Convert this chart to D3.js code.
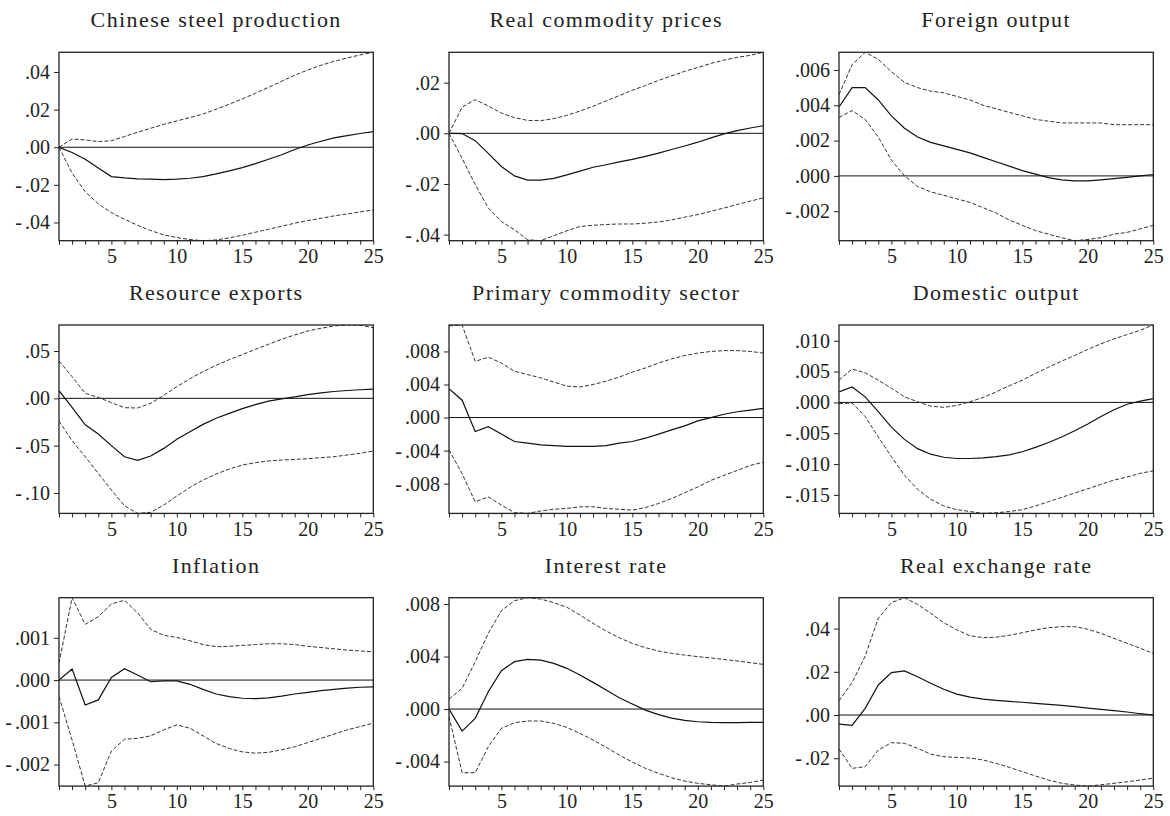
<!DOCTYPE html>
<html>
<head>
<meta charset="utf-8">
<script src="https://cdn.jsdelivr.net/npm/d3@7"></script>
<style>
  body { margin: 0; background: #fff; }
  text { font-family: 'Liberation Serif', 'Times New Roman', serif; fill: #222; }
</style>
</head>
<body>
<div id="chart"></div>
<script>
// horizon 1..25
var periods = d3.range(1, 26);

var titles = ['Chinese steel production', 'Real commodity prices', 'Foreign output',
   'Resource exports', 'Primary commodity sector', 'Domestic output',
   'Inflation', 'Interest rate', 'Real exchange rate'];

// Chinese steel production
var steelMid = [0, -0.0028, -0.0064, -0.011, -0.0156, -0.0163, -0.0168, -0.017, -0.0172, -0.017, -0.0165, -0.0156, -0.0142, -0.0126, -0.0108, -0.0087, -0.0064, -0.004, -0.0012, 0.0012, 0.0032, 0.005, 0.0062, 0.0073, 0.0083];
var steelHi = [0, 0.0044, 0.0039, 0.003, 0.0035, 0.0057, 0.008, 0.0101, 0.0122, 0.014, 0.0158, 0.0177, 0.0202, 0.0229, 0.0257, 0.0287, 0.0319, 0.0351, 0.0383, 0.0411, 0.0436, 0.0457, 0.0475, 0.0491, 0.0505];
var steelLo = [0, -0.0138, -0.0236, -0.0301, -0.0348, -0.0383, -0.0415, -0.0443, -0.0466, -0.048, -0.0491, -0.0497, -0.0493, -0.0482, -0.0468, -0.0452, -0.0436, -0.042, -0.0404, -0.039, -0.0378, -0.0365, -0.0355, -0.0344, -0.0333];

// Real commodity prices
var priceMid = [0, -0.0001, -0.0029, -0.0079, -0.0131, -0.0168, -0.0185, -0.0185, -0.0178, -0.0164, -0.0149, -0.0134, -0.0124, -0.0113, -0.0103, -0.0091, -0.0078, -0.0064, -0.005, -0.0035, -0.0018, -0.0002, 0.0011, 0.0021, 0.003];
var priceHi = [0, 0.0103, 0.0133, 0.0108, 0.008, 0.0062, 0.0051, 0.005, 0.0058, 0.0071, 0.0088, 0.0107, 0.0128, 0.0149, 0.017, 0.0189, 0.0209, 0.0227, 0.0245, 0.026, 0.0276, 0.0289, 0.03, 0.0308, 0.032];
var priceLo = [0, -0.0099, -0.0202, -0.0295, -0.0348, -0.0381, -0.042, -0.0424, -0.0404, -0.0385, -0.0368, -0.0363, -0.036, -0.0358, -0.0358, -0.0355, -0.035, -0.0342, -0.0331, -0.0321, -0.0308, -0.0295, -0.0281, -0.0268, -0.0255];

// Foreign output
var foreignMid = [0.0039, 0.005, 0.005, 0.0043, 0.0034, 0.0027, 0.0022, 0.0019, 0.0017, 0.0015, 0.0013, 0.00105, 0.0008, 0.00055, 0.0003, 0.0001, -0.0001, -0.00022, -0.00028, -0.00028, -0.00022, -0.00015, -0.00008, 0, 0.00008];
var foreignHi = [0.0046, 0.0063, 0.007, 0.0066, 0.0059, 0.0053, 0.005, 0.0048, 0.0047, 0.0045, 0.0043, 0.004, 0.0038, 0.0036, 0.0034, 0.0032, 0.0031, 0.003, 0.003, 0.003, 0.003, 0.0029, 0.0029, 0.0029, 0.0029];
var foreignLo = [0.0033, 0.0037, 0.0032, 0.0022, 0.0009, 0, -0.0006, -0.0009, -0.0011, -0.0013, -0.0015, -0.0018, -0.0021, -0.0025, -0.0028, -0.0031, -0.0033, -0.0035, -0.00367, -0.0036, -0.0035, -0.0033, -0.0032, -0.003, -0.0028];

// Resource exports
var exportMid = [0.0081, -0.0095, -0.028, -0.0377, -0.05, -0.0617, -0.0655, -0.061, -0.0529, -0.0433, -0.0352, -0.0275, -0.0211, -0.0159, -0.0109, -0.0066, -0.003, -0.0005, 0.0015, 0.004, 0.0058, 0.0072, 0.0083, 0.0091, 0.0097];
var exportHi = [0.0395, 0.0229, 0.0053, 0.001, -0.0046, -0.0099, -0.0102, -0.0053, 0.0032, 0.0123, 0.0208, 0.0282, 0.0349, 0.0409, 0.0462, 0.0518, 0.0571, 0.0624, 0.067, 0.0712, 0.074, 0.0765, 0.0775, 0.0772, 0.0747];
var exportLo = [-0.024, -0.0447, -0.0617, -0.0793, -0.0969, -0.1135, -0.1216, -0.1205, -0.1128, -0.1032, -0.0941, -0.0863, -0.08, -0.0747, -0.0705, -0.068, -0.0662, -0.0652, -0.0645, -0.0638, -0.0627, -0.0617, -0.0599, -0.0581, -0.0557];

// Primary commodity sector
var primaryMid = [0.0035, 0.0021, -0.0017, -0.0011, -0.002, -0.0029, -0.0031, -0.0033, -0.0034, -0.0035, -0.0035, -0.0035, -0.0034, -0.0031, -0.0029, -0.0025, -0.002, -0.0015, -0.001, -0.0004, 0, 0.0004, 0.0007, 0.0009, 0.0011];
var primaryHi = [0.0111, 0.0112, 0.0068, 0.0073, 0.0066, 0.0056, 0.0052, 0.0048, 0.0043, 0.0038, 0.0037, 0.004, 0.0044, 0.0049, 0.0055, 0.006, 0.0066, 0.0071, 0.0075, 0.0078, 0.008, 0.0081, 0.0081, 0.008, 0.0078];
var primaryLo = [-0.0039, -0.0068, -0.0102, -0.0096, -0.0106, -0.0115, -0.0116, -0.0113, -0.0111, -0.011, -0.0108, -0.0108, -0.011, -0.0111, -0.0112, -0.0109, -0.0104, -0.0098, -0.0091, -0.0084, -0.0076, -0.007, -0.0064, -0.0058, -0.0054];

// Domestic output
var domesticMid = [0.0017, 0.0025, 0.0009, -0.0015, -0.004, -0.006, -0.0075, -0.0084, -0.0089, -0.0091, -0.0091, -0.009, -0.0088, -0.0085, -0.008, -0.0073, -0.0065, -0.0056, -0.0046, -0.0035, -0.0023, -0.0012, -0.0003, 0.0002, 0.0006];
var domesticHi = [0.0036, 0.0054, 0.0048, 0.0036, 0.0023, 0.0009, 0.0001, -0.0006, -0.0008, -0.0005, 0.0001, 0.0008, 0.0017, 0.0027, 0.0036, 0.0047, 0.0057, 0.0067, 0.0076, 0.0086, 0.0095, 0.0103, 0.011, 0.0117, 0.01255];
var domesticLo = [-0.0002, -0.0001, -0.0023, -0.0056, -0.0088, -0.0118, -0.0141, -0.0157, -0.0168, -0.0174, -0.0177, -0.018, -0.0179, -0.0177, -0.0174, -0.0168, -0.0161, -0.0154, -0.0147, -0.014, -0.0133, -0.0126, -0.0121, -0.0115, -0.0111];

// Inflation
var inflMid = [0, 0.00026, -0.00059, -0.00047, 0.00006, 0.00027, 0.00012, -0.00004, -0.00002, -0.00002, -0.0001, -0.00022, -0.00033, -0.00039, -0.00043, -0.00044, -0.00042, -0.00038, -0.00033, -0.00029, -0.00025, -0.00022, -0.00019, -0.00017, -0.00016];
var inflHi = [0.0004, 0.00195, 0.00132, 0.0015, 0.0018, 0.00189, 0.00159, 0.0012, 0.00106, 0.00101, 0.00093, 0.00084, 0.00079, 0.0008, 0.00082, 0.00084, 0.00086, 0.00086, 0.00084, 0.0008, 0.00077, 0.00074, 0.00071, 0.00069, 0.00067];
var inflLo = [-0.00039, -0.00142, -0.00251, -0.00243, -0.00168, -0.0014, -0.00138, -0.00132, -0.00118, -0.00106, -0.00114, -0.00132, -0.0015, -0.00162, -0.0017, -0.00173, -0.00171, -0.00165, -0.00158, -0.00148, -0.00138, -0.00128, -0.00118, -0.0011, -0.00102];

// Interest rate
var rateMid = [0, -0.00168, -0.00071, 0.00132, 0.00292, 0.00361, 0.00378, 0.00373, 0.00348, 0.0031, 0.00259, 0.00203, 0.00145, 0.00086, 0.00038, -0.00008, -0.00043, -0.00069, -0.00086, -0.00097, -0.00102, -0.00104, -0.00104, -0.00102, -0.00102];
var rateHi = [0.00076, 0.00157, 0.0036, 0.00577, 0.00749, 0.00825, 0.00848, 0.00838, 0.0081, 0.00775, 0.00716, 0.00653, 0.00594, 0.00543, 0.005, 0.00467, 0.00442, 0.00424, 0.00411, 0.00399, 0.00389, 0.00378, 0.00366, 0.00353, 0.0034];
var rateLo = [-0.00058, -0.00485, -0.00485, -0.00287, -0.00147, -0.00104, -0.00091, -0.00091, -0.00109, -0.0014, -0.00185, -0.00236, -0.00292, -0.0035, -0.00404, -0.00452, -0.0049, -0.00523, -0.00549, -0.00566, -0.00577, -0.00587, -0.00571, -0.00559, -0.00541];

// Real exchange rate
var rerMid = [-0.0042, -0.0048, 0.0031, 0.0139, 0.0196, 0.0204, 0.0177, 0.0147, 0.0119, 0.0097, 0.0083, 0.0074, 0.0068, 0.0063, 0.0059, 0.0054, 0.0049, 0.0045, 0.0039, 0.0032, 0.0026, 0.002, 0.0014, 0.0006, 0];
var rerHi = [0.0066, 0.015, 0.0273, 0.0448, 0.052, 0.0543, 0.0512, 0.0471, 0.0427, 0.0394, 0.0367, 0.0358, 0.036, 0.0369, 0.0381, 0.0394, 0.0404, 0.0409, 0.0409, 0.0397, 0.0378, 0.0355, 0.0332, 0.0309, 0.0285];
var rerLo = [-0.0157, -0.0247, -0.0239, -0.0162, -0.0128, -0.0131, -0.0154, -0.0181, -0.0193, -0.0196, -0.0199, -0.0208, -0.0224, -0.0242, -0.0262, -0.0282, -0.0301, -0.0316, -0.0324, -0.0329, -0.0323, -0.0316, -0.0309, -0.0301, -0.0292];

// y tick labels per panel
var yTicks = [
   [-0.04, -0.02, 0, 0.02, 0.04],
   [-0.04, -0.02, 0, 0.02],
   [-0.002, 0, 0.002, 0.004, 0.006],
   [-0.10, -0.05, 0, 0.05],
   [-0.008, -0.004, 0, 0.004, 0.008],
   [-0.015, -0.010, -0.005, 0, 0.005, 0.010],
   [-0.002, -0.001, 0, 0.001],
   [-0.004, 0, 0.004, 0.008],
   [-0.02, 0, 0.02, 0.04]
];
var yDecimals = [2, 2, 3, 2, 3, 3, 3, 3, 2];
var xLabels = [5, 10, 15, 20, 25];

var series = [
   [steelMid, steelHi, steelLo],
   [priceMid, priceHi, priceLo],
   [foreignMid, foreignHi, foreignLo],
   [exportMid, exportHi, exportLo],
   [primaryMid, primaryHi, primaryLo],
   [domesticMid, domesticHi, domesticLo],
   [inflMid, inflHi, inflLo],
   [rateMid, rateHi, rateLo],
   [rerMid, rerHi, rerLo]
];

var W = 1170, H = 816;
var colX = [59, 449, 839], rowY = [52.3, 325, 597.7];
var pw = 314.3, ph = 188.4;

var svg = d3.select('#chart').append('svg')
   .attr('width', W)
   .attr('height', H);

// ".04" style, leading zero dropped
function fmt(v, dec){
   return d3.format('.' + dec + 'f')(Math.abs(v)).replace('0.', '.');
}

series.forEach(function(s, i){
   var col = i % 3, row = Math.floor(i / 3);
   var g = svg.append('g')
      .attr('transform', 'translate(' + colX[col] + ',' + rowY[row] + ')');

   var all = s[0].concat(s[1], s[2], [0]);
   var x = d3.scaleLinear().domain([1, 25]).range([0, pw]);
   var y = d3.scaleLinear().domain(d3.extent(all)).range([ph, 0]);

   g.append('clipPath').attr('id', 'clip' + i)
      .append('rect').attr('width', pw).attr('height', ph);

   // x axis: a tick each period, labels every 5
   var xa = g.append('g')
      .attr('transform', 'translate(0,' + ph + ')')
      .call(d3.axisBottom(x).tickValues(periods).tickSize(4).tickSizeOuter(0).tickPadding(4)
         .tickFormat(function(d){ return xLabels.indexOf(d) >= 0 ? d : ''; }));
   var ya = g.append('g')
      .call(d3.axisLeft(y).tickValues(yTicks[i]).tickSize(5).tickSizeOuter(0).tickPadding(4)
         .tickFormat(function(d){ return fmt(d, yDecimals[i]); }));
   [xa, ya].forEach(function(a){
      a.select('.domain').remove();
      a.selectAll('line').attr('stroke', '#222');
      a.selectAll('text').attr('font-size', 20).attr('font-family', 'Liberation Serif').attr('fill', '#222');
   });
   // short minus with a small gap, like the original
   ya.selectAll('.tick text').each(function(d){
      if (d < 0){
         var t = d3.select(this), lab = t.text();
         t.text('');
         t.append('tspan').text('-');
         t.append('tspan').attr('dx', 3).text(lab);
      }
   });

   var line = d3.line()
      .x(function(d, j){ return x(periods[j]); })
      .y(function(d){ return y(d); });

   var plot = g.append('g').attr('clip-path', 'url(#clip' + i + ')');

   plot.append('line')
      .attr('x1', 0).attr('x2', pw)
      .attr('y1', y(0)).attr('y2', y(0))
      .attr('stroke', '#111').attr('stroke-width', 1);

   plot.append('path').datum(s[1])
      .attr('d', line).attr('fill', 'none')
      .attr('stroke', '#333').attr('stroke-width', 1).attr('stroke-dasharray', '4,2');
   plot.append('path').datum(s[2])
      .attr('d', line).attr('fill', 'none')
      .attr('stroke', '#333').attr('stroke-width', 1).attr('stroke-dasharray', '4,2');
   plot.append('path').datum(s[0])
      .attr('d', line).attr('fill', 'none')
      .attr('stroke', '#111').attr('stroke-width', 1.2);

   g.append('rect')
      .attr('width', pw).attr('height', ph)
      .attr('fill', 'none').attr('stroke', '#222').attr('stroke-width', 1.3);

   g.append('text')
      .attr('x', pw / 2).attr('y', -25)
      .attr('text-anchor', 'middle')
      .attr('font-size', 22)
      .attr('letter-spacing', 1.4)
      .text(titles[i]);
});
</script>
</body>
</html>
